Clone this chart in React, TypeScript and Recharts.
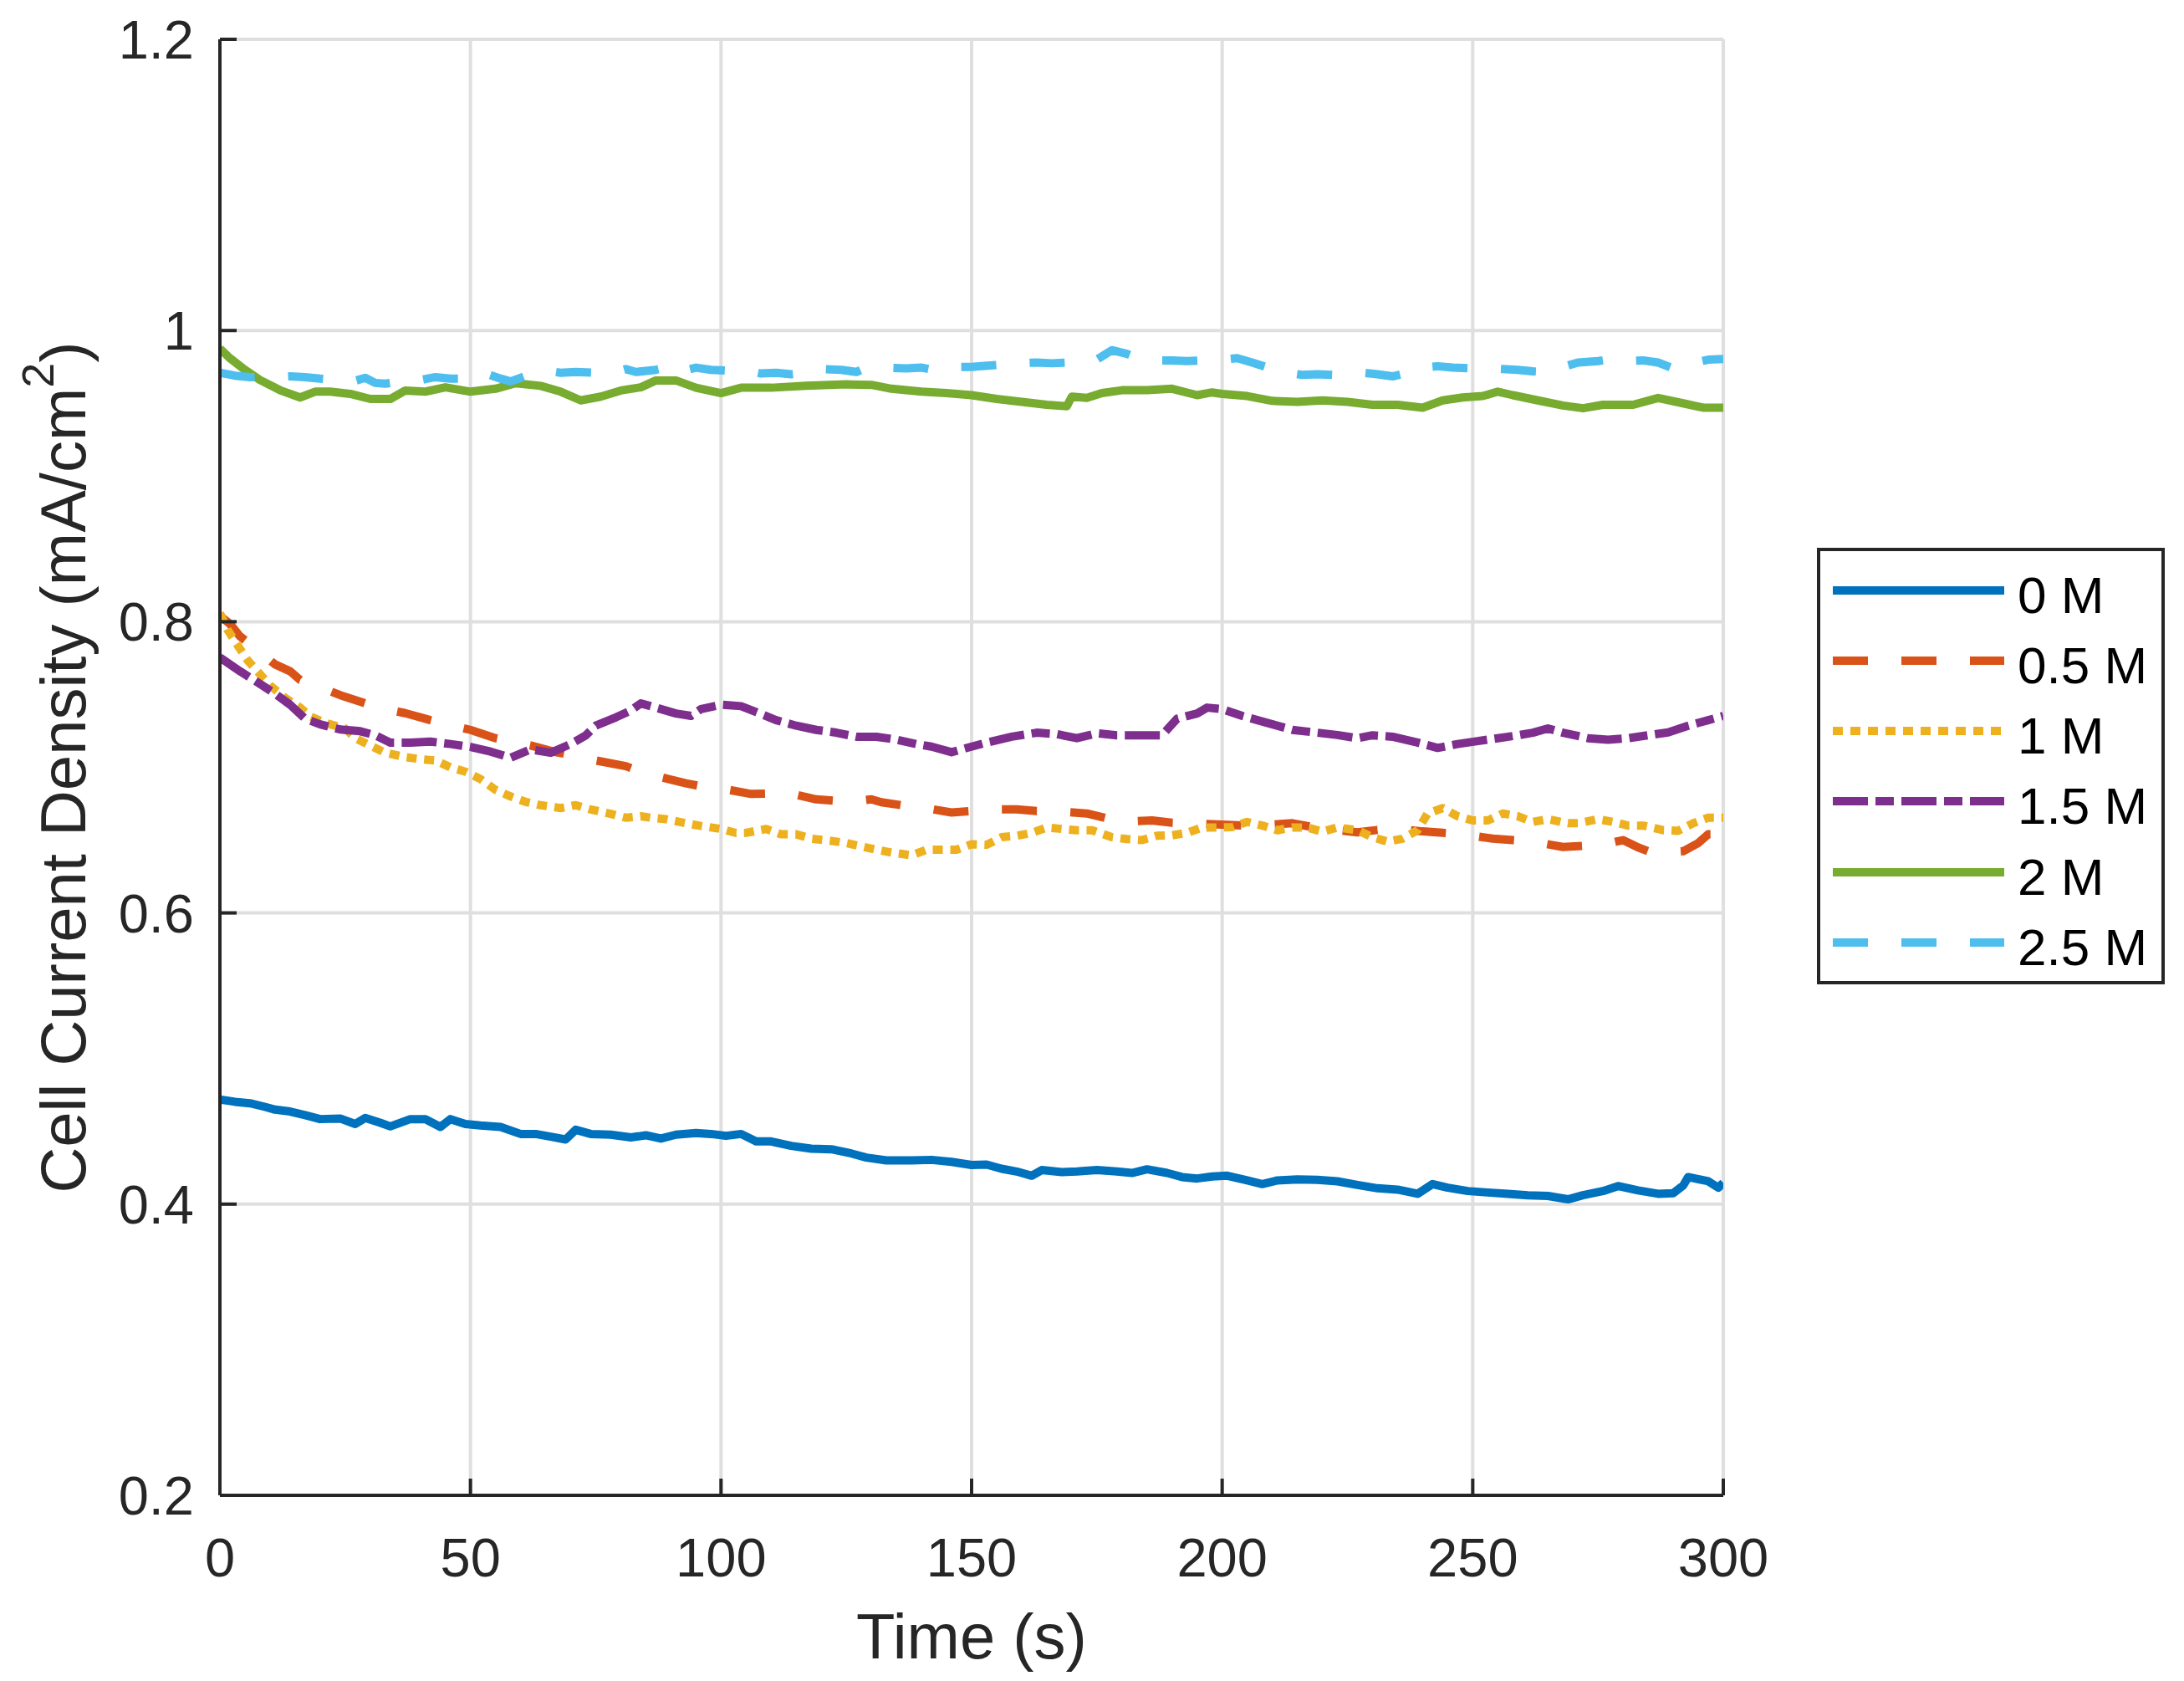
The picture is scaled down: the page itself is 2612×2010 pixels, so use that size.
import React from 'react';
import { LineChart, Line, XAxis, YAxis, CartesianGrid, Legend, Label } from 'recharts';

const FONT = '"Liberation Sans", Arial, Helvetica, sans-serif';
const AXIS_COLOR = '#262626';
const GRID_COLOR = '#dfdfdf';

const xTicks = [0, 50, 100, 150, 200, 250, 300];
const yTicks = [0.2, 0.4, 0.6, 0.8, 1, 1.2];
const seriesNames = ['0 M', '0.5 M', '1 M', '1.5 M', '2 M', '2.5 M'];
const seriesColors = ['#0072BD', '#D95319', '#EDB120', '#7E2F8E', '#77AC30', '#4DBEEE'];
const seriesDashes = ['', '42 40', '12 9', '42 9 22 9', '', '42 40'];

// [time (s), current density (mA/cm^2)]
const data0M: [number, number][] = [
  [0, 0.4718], [3, 0.4703], [6, 0.4693], [9, 0.4668], [11, 0.4649], [14, 0.4636], [17, 0.4611], [20, 0.4584],
  [24, 0.4588], [27, 0.455], [29, 0.4592], [32, 0.4559], [34, 0.4534], [38, 0.4584], [41, 0.4584], [44, 0.453],
  [46, 0.4584], [49, 0.455], [52, 0.454], [56, 0.453], [60, 0.4482], [63, 0.4482], [66, 0.4463], [69, 0.4444],
  [71, 0.4511], [74, 0.4482], [78, 0.4477], [82, 0.4458], [85, 0.4473], [88, 0.445], [91, 0.4477], [95, 0.4488],
  [98, 0.4482], [101, 0.4469], [104, 0.4482], [107, 0.4431], [110, 0.4431], [114, 0.44], [118, 0.4381], [122, 0.4377],
  [126, 0.4348], [129, 0.432], [133, 0.43], [138, 0.43], [142, 0.4304], [146, 0.429], [150, 0.4269], [153, 0.4272],
  [156, 0.4243], [159, 0.4224], [162, 0.4195], [164, 0.4234], [168, 0.422], [171, 0.4224], [175, 0.4234], [179, 0.4224],
  [182, 0.4214], [185, 0.4239], [189, 0.4214], [192, 0.4186], [195, 0.4176], [198, 0.419], [201, 0.4195], [205, 0.4163],
  [208, 0.4138], [211, 0.4163], [215, 0.417], [219, 0.4167], [223, 0.4157], [227, 0.4132], [231, 0.4109], [235, 0.41],
  [239, 0.4071], [242, 0.4138], [245, 0.4113], [249, 0.409], [253, 0.408], [257, 0.4071], [261, 0.4061], [265, 0.4056],
  [269, 0.4033], [272, 0.4061], [276, 0.409], [279, 0.4124], [283, 0.4094], [287, 0.4071], [290, 0.4075], [292, 0.4128],
  [293, 0.4186], [297, 0.4157], [299, 0.4113], [300, 0.4147],
];

const data05M: [number, number][] = [
  [0, 0.804], [2, 0.7985], [4, 0.79], [7, 0.782], [11, 0.7707], [14, 0.766], [16, 0.76], [20, 0.755],
  [24, 0.7496], [29, 0.744], [33, 0.74], [37, 0.7372], [42, 0.7324], [46, 0.729], [50, 0.7257], [55, 0.72],
  [58, 0.718], [62, 0.715], [67, 0.7104], [71, 0.708], [75, 0.7047], [81, 0.7008], [84, 0.697], [87, 0.694],
  [93, 0.689], [96, 0.687], [100, 0.6855], [106, 0.6817], [110, 0.682], [113, 0.6826], [119, 0.678], [123, 0.677],
  [126, 0.6763], [130, 0.678], [132, 0.676], [136, 0.674], [139, 0.673], [146, 0.669], [150, 0.67], [153, 0.6711],
  [159, 0.6711], [163, 0.67], [166, 0.67], [173, 0.6683], [177, 0.665], [180, 0.6625], [186, 0.6635], [190, 0.662],
  [194, 0.6616], [200, 0.6606], [204, 0.66], [207, 0.66], [214, 0.6616], [218, 0.659], [221, 0.6577], [227, 0.6553],
  [231, 0.657], [235, 0.6577], [240, 0.656], [244, 0.655], [248, 0.654], [254, 0.651], [258, 0.65], [262, 0.649],
  [268, 0.6453], [272, 0.646], [275, 0.6463], [280, 0.65], [283, 0.645], [286, 0.6411], [292, 0.6424], [295, 0.648],
  [297, 0.654], [300, 0.654],
];

const data1M: [number, number][] = [
  [0, 0.806], [1.5, 0.7946], [3.5, 0.784], [5.5, 0.7736], [8, 0.764], [10, 0.7563], [13, 0.7477], [16, 0.741],
  [18, 0.735], [21, 0.7305], [25, 0.7267], [27, 0.72], [30, 0.715], [33, 0.71], [37, 0.707], [40, 0.7056],
  [43, 0.7047], [46, 0.7], [49, 0.697], [52, 0.692], [55, 0.6845], [58, 0.68], [61, 0.6763], [64, 0.674],
  [68, 0.672], [71, 0.674], [74, 0.671], [78, 0.668], [81, 0.6654], [84, 0.6664], [86, 0.6654], [89, 0.6644],
  [93, 0.6616], [96, 0.6597], [100, 0.6577], [103, 0.6549], [105, 0.655], [109, 0.6577], [112, 0.654], [115, 0.654],
  [118, 0.651], [122, 0.6495], [125, 0.648], [128, 0.6457], [131, 0.6434], [134, 0.6415], [138, 0.6396], [141, 0.6434],
  [144, 0.6434], [147, 0.6434], [150, 0.6472], [153, 0.6468], [156, 0.652], [159, 0.653], [162, 0.6549], [165, 0.6587],
  [168, 0.6577], [171, 0.6568], [174, 0.6568], [178, 0.652], [181, 0.6507], [184, 0.65], [187, 0.653], [190, 0.6533],
  [193, 0.655], [196, 0.6587], [199, 0.6587], [202, 0.659], [205, 0.6625], [208, 0.66], [211, 0.6568], [214, 0.6587],
  [217, 0.6587], [220, 0.6558], [223, 0.6587], [227, 0.6568], [230, 0.652], [233, 0.649], [236, 0.651], [239, 0.6568],
  [241, 0.6683], [244, 0.672], [247, 0.6664], [250, 0.6635], [253, 0.6635], [256, 0.6683], [259, 0.6664], [262, 0.6625],
  [265, 0.6644], [269, 0.6616], [271, 0.6616], [275, 0.6644], [278, 0.6625], [281, 0.66], [284, 0.66], [288, 0.6568],
  [291, 0.6564], [294, 0.6616], [297, 0.6654], [300, 0.6654],
];

const data15M: [number, number][] = [
  [0, 0.7755], [4, 0.766], [8, 0.7573], [11, 0.7506], [14, 0.743], [17, 0.7334], [20, 0.7295], [24, 0.726],
  [28, 0.7248], [31, 0.722], [34, 0.717], [38, 0.717], [42, 0.7177], [46, 0.716], [50, 0.714], [54, 0.7108],
  [58, 0.7066], [62, 0.7123], [66, 0.71], [70, 0.716], [73, 0.7219], [75, 0.7286], [79, 0.7343], [82, 0.739],
  [84, 0.7439], [87, 0.741], [91, 0.737], [94, 0.7353], [96, 0.74], [100, 0.743], [104, 0.742], [107, 0.738],
  [111, 0.7324], [115, 0.7286], [119, 0.7257], [123, 0.7238], [127, 0.721], [131, 0.721], [135, 0.719], [139, 0.716],
  [142, 0.7142], [146, 0.7104], [150, 0.7142], [153, 0.717], [158, 0.721], [163, 0.7238], [167, 0.7228], [171, 0.72],
  [175, 0.7234], [179, 0.722], [184, 0.722], [188, 0.722], [191, 0.7334], [195, 0.737], [197, 0.741], [200, 0.74],
  [204, 0.7353], [209, 0.7305], [214, 0.7257], [219, 0.7238], [223, 0.7222], [227, 0.72], [230, 0.722], [234, 0.721],
  [239, 0.717], [243, 0.7133], [247, 0.716], [251, 0.718], [255, 0.72], [259, 0.722], [262, 0.7238], [265, 0.7267],
  [268, 0.7238], [273, 0.72], [277, 0.719], [281, 0.72], [285, 0.722], [289, 0.724], [293, 0.7286], [297, 0.7324],
  [300, 0.7353],
];

const data2M: [number, number][] = [
  [0, 0.9876], [2, 0.981], [5, 0.973], [8, 0.966], [12, 0.959], [16, 0.954], [19, 0.958], [22, 0.958],
  [26, 0.9565], [30, 0.953], [34, 0.953], [37, 0.9588], [41, 0.958], [45, 0.961], [50, 0.958], [55, 0.96],
  [59, 0.9638], [64, 0.962], [68, 0.958], [72, 0.952], [76, 0.9546], [80, 0.9588], [84, 0.961], [87, 0.9657],
  [91, 0.9657], [95, 0.9607], [100, 0.957], [104, 0.9607], [110, 0.9607], [117, 0.962], [125, 0.963], [130, 0.9627],
  [134, 0.96], [140, 0.958], [145, 0.957], [150, 0.9556], [155, 0.953], [160, 0.951], [165, 0.949], [169, 0.948],
  [170, 0.9546], [173, 0.9537], [176, 0.957], [180, 0.959], [185, 0.959], [190, 0.96], [195, 0.9556], [198, 0.9575],
  [200, 0.9565], [205, 0.955], [210, 0.9517], [215, 0.951], [220, 0.952], [225, 0.951], [230, 0.949], [235, 0.949],
  [240, 0.947], [244, 0.952], [248, 0.954], [252, 0.955], [255, 0.958], [258, 0.9556], [263, 0.952], [268, 0.9485],
  [272, 0.9466], [276, 0.949], [282, 0.949], [287, 0.9537], [292, 0.95], [296, 0.947], [300, 0.947],
];

const data25M: [number, number][] = [
  [0, 0.971], [3, 0.969], [6, 0.968], [10, 0.968], [14, 0.9685], [17, 0.968], [20, 0.967], [24, 0.966],
  [27, 0.9655], [29, 0.9675], [31, 0.964], [33, 0.9635], [37, 0.9655], [40, 0.966], [43, 0.968], [46, 0.967],
  [50, 0.967], [53, 0.9705], [56, 0.967], [58, 0.965], [62, 0.97], [65, 0.9725], [68, 0.971], [71, 0.9715],
  [75, 0.971], [78, 0.9705], [81, 0.9735], [83, 0.9715], [87, 0.973], [90, 0.9755], [92, 0.972], [95, 0.9745],
  [98, 0.973], [101, 0.9725], [105, 0.9725], [108, 0.9705], [111, 0.971], [114, 0.97], [117, 0.971], [120, 0.9735],
  [124, 0.973], [127, 0.9715], [129, 0.9745], [133, 0.9745], [137, 0.974], [140, 0.9745], [143, 0.9725], [146, 0.975],
  [150, 0.975], [152, 0.9755], [156, 0.9765], [159, 0.9775], [163, 0.978], [166, 0.9775], [169, 0.978], [172, 0.9795],
  [175, 0.98], [178, 0.9865], [181, 0.984], [184, 0.98], [187, 0.9795], [190, 0.9795], [193, 0.979], [197, 0.9795],
  [200, 0.98], [203, 0.981], [206, 0.978], [210, 0.9735], [213, 0.971], [216, 0.9695], [219, 0.97], [222, 0.9695],
  [225, 0.97], [228, 0.971], [231, 0.97], [234, 0.9685], [237, 0.971], [240, 0.9745], [243, 0.9755], [246, 0.9745],
  [250, 0.974], [253, 0.974], [256, 0.9735], [259, 0.973], [262, 0.972], [265, 0.9715], [268, 0.975], [271, 0.978],
  [275, 0.979], [278, 0.9805], [281, 0.979], [284, 0.9795], [287, 0.978], [290, 0.974], [293, 0.977], [297, 0.98],
  [300, 0.9805],
];

const seriesData = [data0M, data05M, data1M, data15M, data2M, data25M];

const series = seriesNames.map((name, i) => ({
  name,
  color: seriesColors[i],
  dash: seriesDashes[i],
  data: seriesData[i].map(([t, v]) => ({ t, v })),
}));

const CHART_W = 2596;
const CHART_H = 1994;
const MARGIN = { top: 39, right: 543, bottom: 0, left: 0 };
const Y_AXIS_W = 255;
const X_AXIS_H = 214;
const TICK_FONT = 65;
const LABEL_FONT = 76;
const LEGEND_FONT = 62;
const TICK_LEN = 20;

const XTick = (props: any) => {
  const { x, y, payload } = props;
  return (
    <g>
      <line x1={x} y1={y} x2={x} y2={y - TICK_LEN} stroke={AXIS_COLOR} strokeWidth={4} />
      <text x={x} y={y + 97} textAnchor="middle" fontSize={TICK_FONT} fontFamily={FONT} fill={AXIS_COLOR}>
        {String(payload.value)}
      </text>
    </g>
  );
};

const YTick = (props: any) => {
  const { x, y, payload } = props;
  return (
    <g>
      <line x1={x} y1={y} x2={x + TICK_LEN} y2={y} stroke={AXIS_COLOR} strokeWidth={4} />
      <text x={x - 31} y={y + 23} textAnchor="end" fontSize={TICK_FONT} fontFamily={FONT} fill={AXIS_COLOR}>
        {String(payload.value)}
      </text>
    </g>
  );
};

const XLabelContent = (props: any) => {
  const vb = props.viewBox || {};
  const cx = vb.x + vb.width / 2;
  return (
    <text x={cx} y={vb.y + 195} textAnchor="middle" fontSize={LABEL_FONT} fontFamily={FONT} fill={AXIS_COLOR}>
      Time (s)
    </text>
  );
};

const YLabelContent = (props: any) => {
  const vb = props.viewBox || {};
  const cy = vb.y + vb.height / 2;
  const bx = 94;
  return (
    <text
      x={bx}
      y={cy}
      transform={`rotate(-90, ${bx}, ${cy})`}
      textAnchor="middle"
      fontSize={LABEL_FONT}
      fontFamily={FONT}
      fill={AXIS_COLOR}
    >
      Cell Current Density (mA/cm
      <tspan fontSize={54} dy={-38}>2</tspan>
      <tspan dy={38}>)</tspan>
    </text>
  );
};

const LEG_W = 416;
const LEG_H = 522;
const legendRowY = [51, 135, 219, 303, 388, 472];

const LegendContent = () => (
  <svg width={LEG_W} height={LEG_H} style={{ display: 'block' }}>
    <rect x={2} y={2} width={LEG_W - 4} height={LEG_H - 4} fill="#ffffff" stroke={AXIS_COLOR} strokeWidth={4} />
    {series.map((s, i) => (
      <g key={s.name}>
        <line
          x1={19}
          x2={224}
          y1={legendRowY[i]}
          y2={legendRowY[i]}
          stroke={s.color}
          strokeWidth={10}
          strokeDasharray={s.dash || undefined}
        />
        <text x={240} y={legendRowY[i] + 27} fontSize={LEGEND_FONT} fontFamily={FONT} fill="#000000">
          {s.name}
        </text>
      </g>
    ))}
  </svg>
);

export default function App() {
  return (
    <div style={{ width: CHART_W, height: CHART_H, position: 'relative', background: '#ffffff' }}>
      <LineChart width={CHART_W} height={CHART_H} margin={MARGIN}>
        <CartesianGrid stroke={GRID_COLOR} strokeWidth={4} />
        <XAxis
          dataKey="t"
          type="number"
          domain={[0, 300]}
          ticks={xTicks}
          interval={0}
          allowDataOverflow
          height={X_AXIS_H}
          tickSize={0}
          tickMargin={0}
          tick={<XTick />}
          axisLine={{ stroke: AXIS_COLOR, strokeWidth: 4 }}
          tickLine={false}
        >
          <Label content={<XLabelContent />} />
        </XAxis>
        <YAxis
          type="number"
          domain={[0.2, 1.2]}
          ticks={yTicks}
          interval={0}
          allowDataOverflow
          width={Y_AXIS_W}
          tickSize={0}
          tickMargin={0}
          tick={<YTick />}
          axisLine={{ stroke: AXIS_COLOR, strokeWidth: 4 }}
          tickLine={false}
        >
          <Label content={<YLabelContent />} />
        </YAxis>
        {series.map((s) => (
          <Line
            key={s.name}
            data={s.data}
            dataKey="v"
            name={s.name}
            type="linear"
            stroke={s.color}
            strokeWidth={10}
            strokeDasharray={s.dash || undefined}
            strokeLinejoin="round"
            strokeLinecap="butt"
            dot={false}
            activeDot={false}
            isAnimationActive={false}
          />
        ))}
        <Legend
          layout="horizontal"
          verticalAlign="middle"
          align="center"
          content={<LegendContent />}
          wrapperStyle={{ position: 'absolute', left: 2165, top: 647, width: LEG_W, height: LEG_H, right: 'auto', bottom: 'auto' }}
        />
      </LineChart>
    </div>
  );
}
